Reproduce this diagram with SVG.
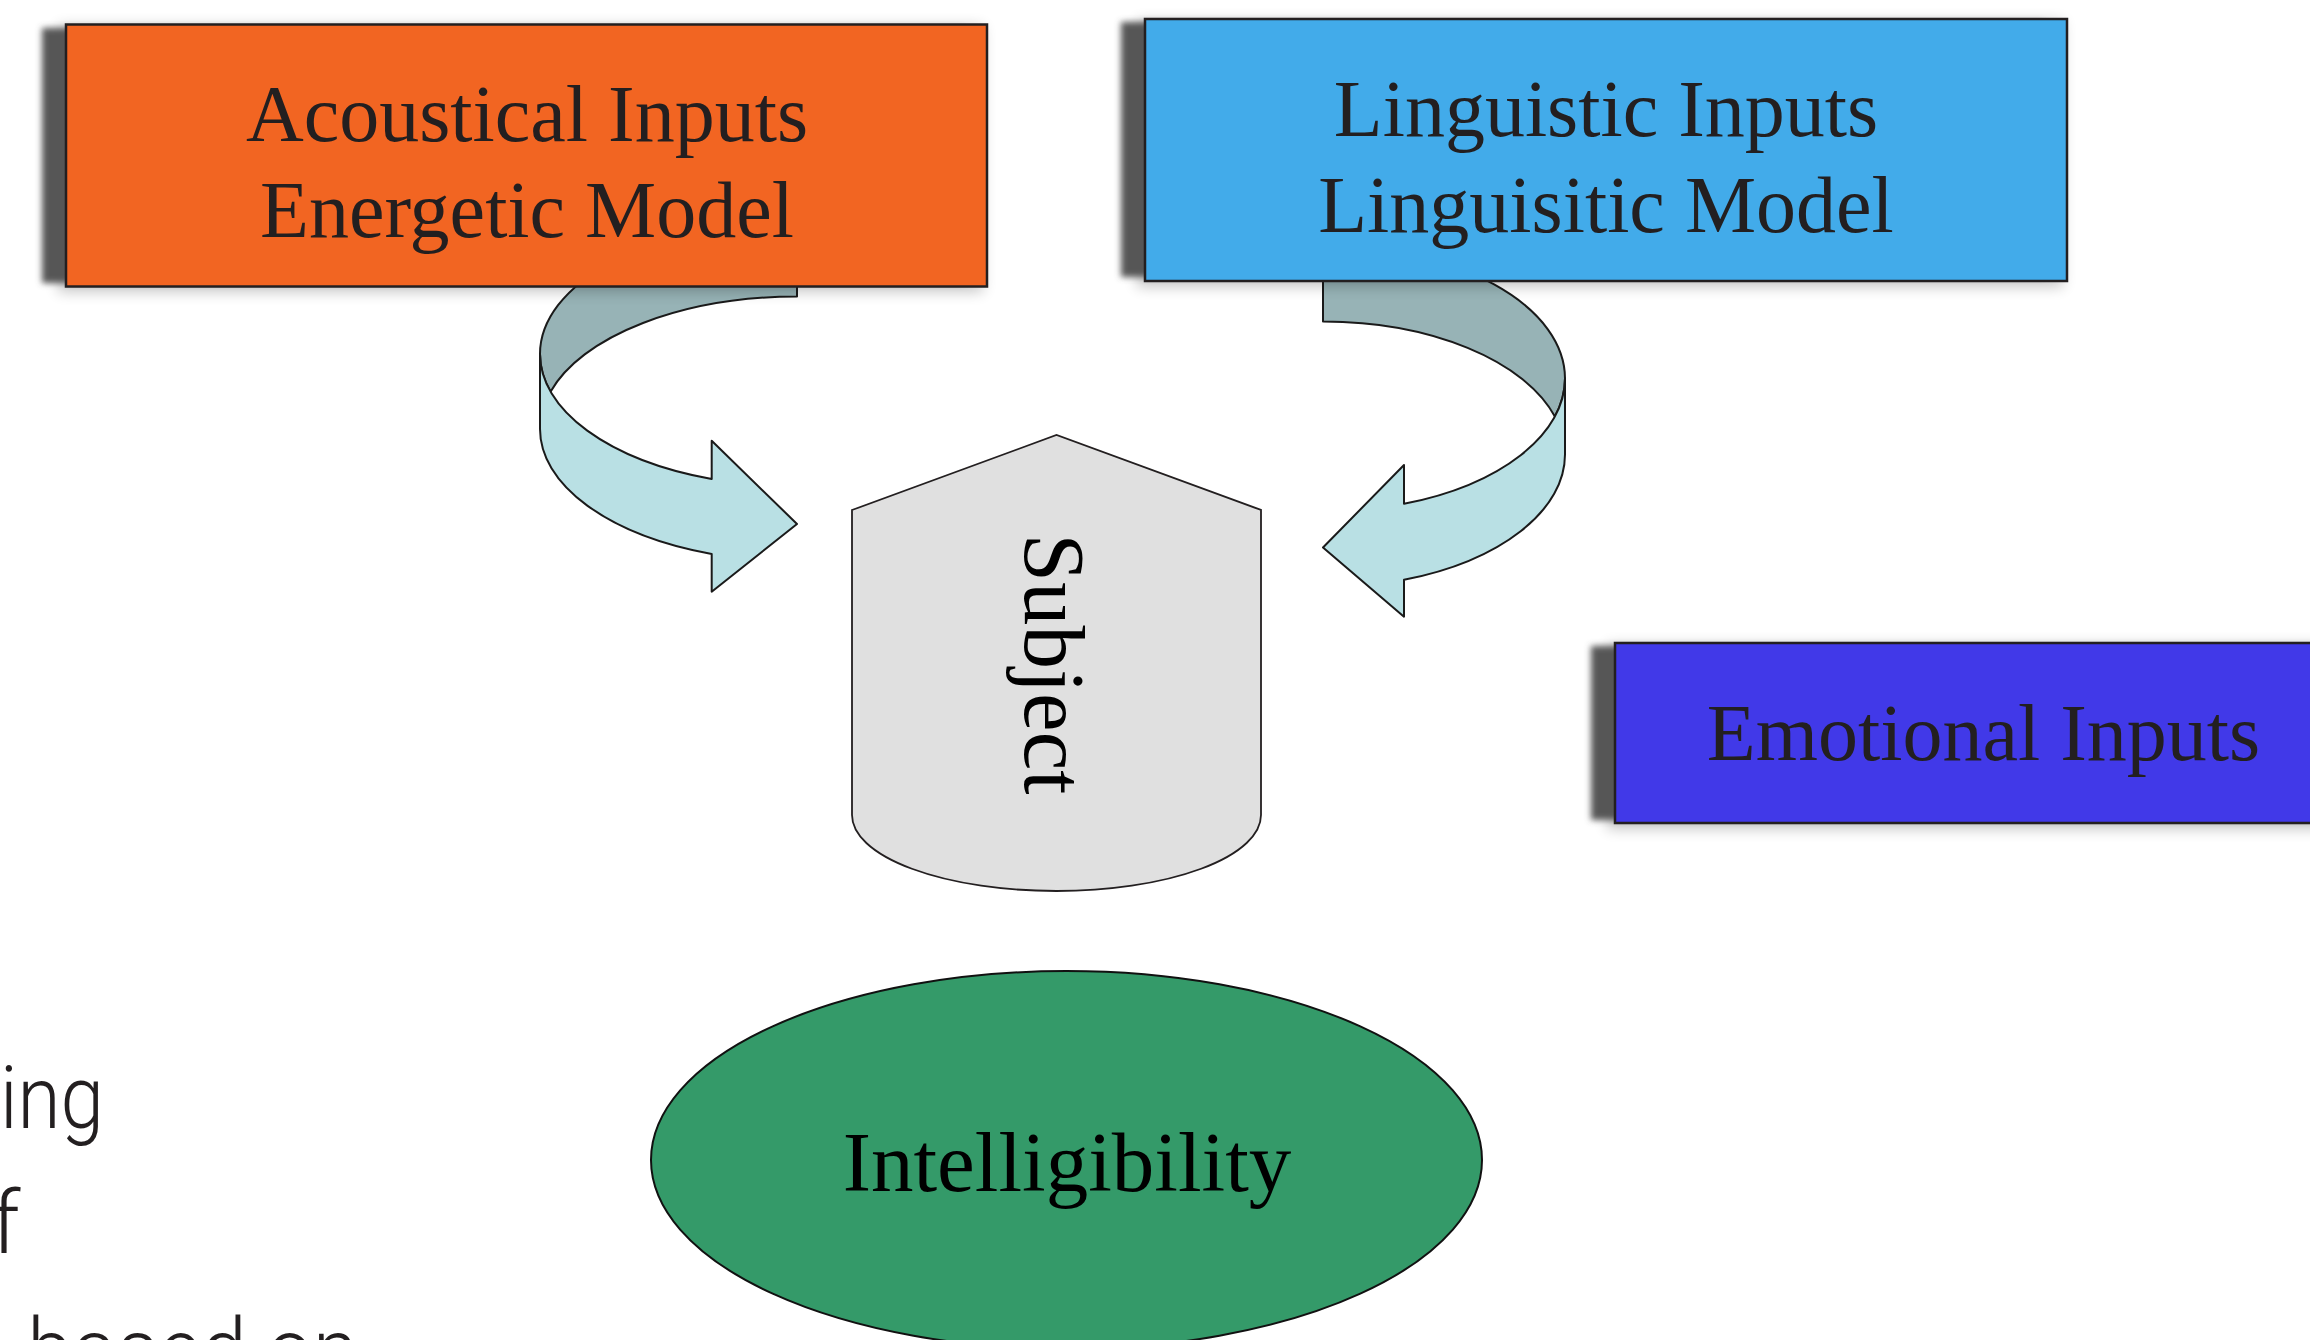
<svg xmlns="http://www.w3.org/2000/svg" width="2310" height="1340" viewBox="0 0 2310 1340">
<style>
.box{stroke:#231F20;stroke-width:2.5}
.shadow{fill:#575757;filter:url(#blurDark)}
.halo{fill:#000;opacity:.22;filter:url(#blurHalo)}
.lbl{font-family:"Liberation Serif","Times New Roman",serif;font-size:80px;fill:#231F20;text-anchor:middle}
.back{fill:#97B3B6;stroke:#1a1a1a;stroke-width:2;stroke-linejoin:round}
.front{fill:#B9E0E4;stroke:#1a1a1a;stroke-width:2;stroke-linejoin:round}
.bg{font-family:Roboto,Lato,"Liberation Sans",sans-serif;font-weight:300;font-size:88px;fill:#231F20}
</style>
<defs>
<filter id="blurDark" x="-10%" y="-10%" width="120%" height="120%"><feGaussianBlur stdDeviation="3"/></filter>
<filter id="blurHalo" x="-10%" y="-20%" width="120%" height="140%"><feGaussianBlur stdDeviation="7"/></filter>
</defs>
<rect width="2310" height="1340" fill="#fff"/>

<g id="background-text">
<text class="bg" x="0" y="1128" textLength="104" lengthAdjust="spacingAndGlyphs">ing</text>
<text class="bg" x="-9" y="1253">f</text>
<text class="bg" x="-38" y="1380" textLength="396" lengthAdjust="spacingAndGlyphs">n based on</text>
</g>

<g id="connectors">
<g id="arrow-acoustical-subject">
<path class="back" d="M797,296.5 A257,132.5 0 0 0 550.5,391.7 A257,132.5 0 0 1 540,354 A257,132.5 0 0 1 797,221.5 Z"/>
<path class="front" d="M540,354 A257,132.5 0 0 0 711.7,479 L711.7,440.7 L797,524 L711.7,591.7 L711.7,554 A257,132.5 0 0 1 540,429 Z"/>
</g>
<g id="arrow-linguistic-subject">
<path class="back" d="M1323,321.5 A242,133 0 0 1 1554.9,416.5 A242,133 0 0 0 1565,378.5 A242,133 0 0 0 1323,245.5 Z"/>
<path class="front" d="M1565,378.5 A242,133 0 0 1 1404,503.8 L1404,465 L1323,547.5 L1404,616.7 L1404,579.8 A242,133 0 0 0 1565,454.5 Z"/>
</g>
</g>

<g id="node-acoustical">
<rect class="halo" x="58" y="26" width="925" height="266"/>
<rect class="shadow" x="42" y="28" width="921" height="255"/>
<rect class="box" x="66" y="24.5" width="921" height="262" fill="#F26522"/>
<text class="lbl" x="527" y="141">Acoustical Inputs</text>
<text class="lbl" x="527" y="237">Energetic Model</text>
</g>

<g id="node-linguistic">
<rect class="halo" x="1137" y="21" width="926" height="266"/>
<rect class="shadow" x="1121" y="22" width="922" height="255"/>
<rect class="box" x="1145" y="19" width="922" height="262" fill="#42ABEA"/>
<text class="lbl" x="1606" y="136">Linguistic Inputs</text>
<text class="lbl" x="1606" y="232">Linguisitic Model</text>
</g>

<g id="node-emotional">
<rect class="halo" x="1607" y="645" width="760" height="184"/>
<rect class="shadow" x="1591" y="646" width="760" height="174"/>
<rect class="box" x="1615" y="643" width="760" height="180" fill="#4139E8"/>
<text class="lbl" x="1983.5" y="760">Emotional Inputs</text>
</g>

<g id="node-subject">
<path d="M852,510 L1056.5,435 L1261,510 L1261,815 A204.5,76 0 0 1 852,815 Z" fill="#E0E0E0" stroke="#231F20" stroke-width="1.8"/>
<text transform="translate(1025,664) rotate(90)" text-anchor="middle" font-family="'Liberation Serif','Times New Roman',serif" font-size="87" fill="#000">Subject</text>
</g>

<g id="node-intelligibility">
<ellipse cx="1066.5" cy="1160" rx="415.5" ry="189" fill="#349A69" stroke="#111" stroke-width="2"/>
<text x="1067" y="1191" text-anchor="middle" font-family="'Liberation Serif','Times New Roman',serif" font-size="85" fill="#000">Intelligibility</text>
</g>
</svg>
